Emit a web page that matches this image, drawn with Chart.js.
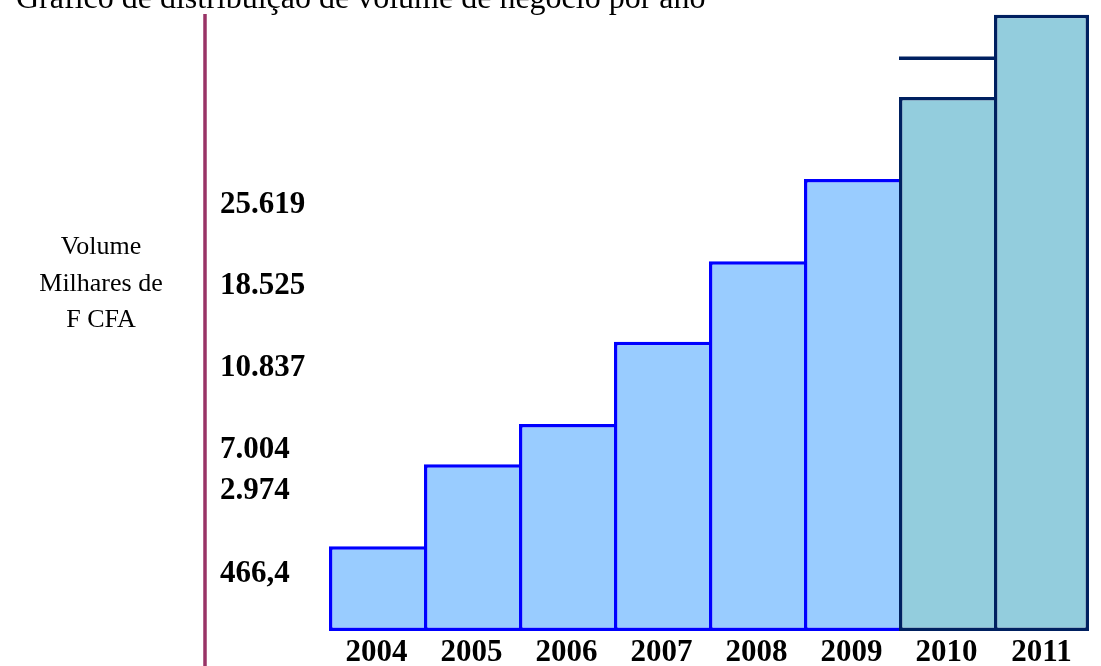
<!DOCTYPE html>
<html>
<head>
<meta charset="utf-8">
<script src="https://cdn.jsdelivr.net/npm/chart.js@4/dist/chart.umd.min.js"></script>
<style>
  html, body { margin: 0; padding: 0; background: #fff; }
</style>
</head>
<body>
<canvas id="chart" width="1101" height="666"></canvas>
<script>
// Years on the x axis
const years = ['2004', '2005', '2006', '2007', '2008', '2009', '2010', '2011'];
// Bar heights, in steps of the drawing
const stepHeights = [1.03, 2.03, 2.52, 3.52, 4.5, 5.5, 6.5, 7.5];
// Volume labels (milhares de F CFA) and the step level each one sits at
const volumeLabels = ['466,4', '2.974', '7.004', '10.837', '18.525', '25.619'];
const labelLevels = [0.7, 1.71, 2.2, 3.2, 4.2, 5.19];
// Extra level line drawn over 2010
const markYear = '2010';
const markLevel = 6.97;

const titleText = 'Gráfico de distribuição de volume de negócio por ano';
const axisTitle = ['Volume', 'Milhares de', 'F CFA'];

// 2004-2009 light blue, 2010-2011 teal with navy edges
const barFills = ['#99CCFF', '#99CCFF', '#99CCFF', '#99CCFF', '#99CCFF', '#99CCFF', '#93CDDD', '#93CDDD'];
const barEdges = ['#0000FF', '#0000FF', '#0000FF', '#0000FF', '#0000FF', '#0000FF', '#002060', '#002060'];
const edge = 3.5;

const serif = '"Liberation Serif", "Times New Roman", serif';

const decor = {
  id: 'decor',
  afterDraw(chart) {
    const { ctx, scales: { y } } = chart;
    ctx.save();

    // purple axis line left of the labels
    ctx.strokeStyle = '#993366';
    ctx.lineWidth = 3.5;
    ctx.beginPath();
    ctx.moveTo(y.left - 15, 14);
    ctx.lineTo(y.left - 15, chart.height);
    ctx.stroke();

    // level line over 2010
    const bar = chart.getDatasetMeta(0).data[years.indexOf(markYear)];
    const py = y.getPixelForValue(markLevel);
    ctx.strokeStyle = '#002060';
    ctx.beginPath();
    ctx.moveTo(bar.x - bar.width / 2, py);
    ctx.lineTo(bar.x + bar.width / 2, py);
    ctx.stroke();

    // title, clipped by the top edge
    ctx.fillStyle = '#000';
    ctx.font = '32px ' + serif;
    ctx.textAlign = 'left';
    ctx.textBaseline = 'alphabetic';
    ctx.fillText(titleText, 16, 8);

    // axis caption
    ctx.font = '26px ' + serif;
    ctx.textAlign = 'center';
    axisTitle.forEach((t, k) => ctx.fillText(t, 101, 254 + k * 36.5));

    ctx.restore();
  }
};

new Chart(document.getElementById('chart'), {
  type: 'bar',
  data: {
    labels: years,
    datasets: [{
      data: stepHeights,
      backgroundColor: barFills,
      borderColor: barEdges,
      borderWidth: (c) => ({ top: edge, left: edge, bottom: edge, right: c.dataIndex === years.length - 1 ? edge : 0 }),
      borderSkipped: false,
      inflateAmount: 0,
      barPercentage: 1,
      categoryPercentage: 1
    }]
  },
  options: {
    responsive: false,
    devicePixelRatio: 1,
    animation: false,
    layout: { padding: { left: 220, right: 12, top: 0, bottom: 0 } },
    plugins: {
      legend: { display: false },
      tooltip: { enabled: false }
    },
    scales: {
      x: {
        grid: { display: false, drawTicks: false },
        border: { display: false },
        ticks: {
          color: '#000',
          padding: 3,
          font: { family: serif, size: 31, weight: 'bold' }
        },
        afterFit: (scale) => {
          scale.height = 35;
          scale.paddingLeft = 0;
          scale.paddingRight = 0;
        }
      },
      y: {
        min: 0,
        max: 7.68,
        grid: { display: false, drawTicks: false },
        border: { display: false },
        afterBuildTicks: (scale) => { scale.ticks = labelLevels.map(v => ({ value: v })); },
        afterFit: (scale) => {
          scale.width = 109;
          scale.paddingTop = 0;
          scale.paddingBottom = 0;
        },
        ticks: {
          autoSkip: false,
          color: '#000',
          crossAlign: 'far',
          padding: 0,
          font: { family: serif, size: 31, weight: 'bold' },
          callback: (v, i) => volumeLabels[i]
        }
      }
    }
  },
  plugins: [decor]
});
</script>
</body>
</html>
